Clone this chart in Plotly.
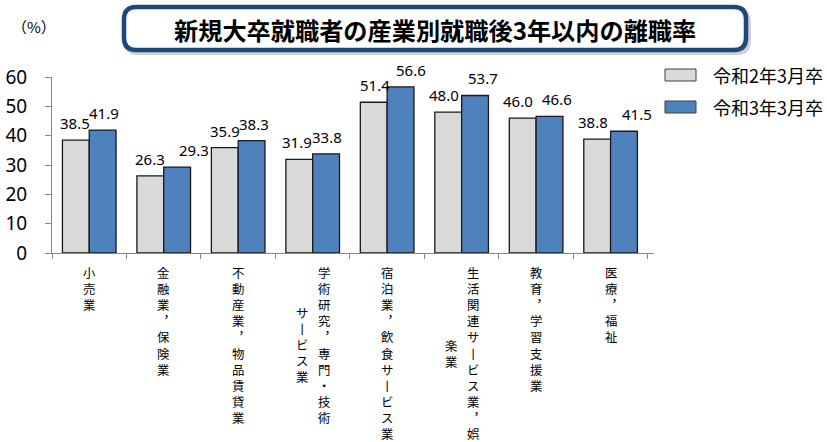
import plotly.graph_objects as go

# ---------------- data ----------------
title_text = "新規大卒就職者の産業別就職後3年以内の離職率"
unit_label = "（%）"
series_names = ["令和2年3月卒", "令和3年3月卒"]
categories = [
    "小売業",
    "金融業，保険業",
    "不動産業，物品賃貸業",
    "学術研究，専門・技術サービス業",
    "宿泊業，飲食サービス業",
    "生活関連サービス業，娯楽業",
    "教育，学習支援業",
    "医療，福祉",
]
# how each category label is split into vertical columns (right column first)
label_columns = [
    ["小売業"],
    ["金融業，保険業"],
    ["不動産業，物品賃貸業"],
    ["学術研究，専門・技術", "サービス業"],
    ["宿泊業，飲食サービス業"],
    ["生活関連サービス業，娯", "楽業"],
    ["教育，学習支援業"],
    ["医療，福祉"],
]
r2_values = [38.5, 26.3, 35.9, 31.9, 51.4, 48.0, 46.0, 38.8]
r3_values = [41.9, 29.3, 38.3, 33.8, 56.6, 53.7, 46.6, 41.5]
y_tick_values = [0, 10, 20, 30, 40, 50, 60]

# ---------------- style ----------------
W, H = 827, 442
L, R, T, B = 52, 173, 77, 189
PW, PH = W - L - R, H - T - B
BARGAP = 0.28
colors = ["#D9D9D9", "#4F81BD"]
edge = "#1A1A1A"
axis_gray = "#868686"
jp = "Noto Sans CJK JP"
num_font = "Noto Sans"
label_dx = [[-1, 0, 0, -2, 1, -4, -5, -4], [1, 17, 2, 1, 10, 8, 7, 13]]
VCHAR = {"ー": "丨", "，": "︐"}
V_FONT = 12.4
V_LH = 1.3 * V_FONT


def pxx(p):
    return (p - L) / PW


def pxy(p):
    return (H - B - p) / PH


fig = go.Figure()
for k, (name, vals) in enumerate(zip(series_names, [r2_values, r3_values])):
    fig.add_trace(go.Bar(
        x=categories, y=vals, name=name,
        marker=dict(color=colors[k], line=dict(color=edge, width=1.3)),
        showlegend=False, hoverinfo="skip",
    ))

annotations = []
half = (1 - BARGAP) / 4
for k, vals in enumerate([r2_values, r3_values]):
    off = -half if k == 0 else half
    for i, v in enumerate(vals):
        annotations.append(dict(
            x=i + off, y=v, xref="x", yref="y", text=f"{v:.1f}",
            showarrow=False, yanchor="middle", xanchor="center",
            yshift=17, xshift=label_dx[k][i],
            font=dict(family=num_font, size=15, color="#000"),
        ))

# vertical category labels
top_y = pxy(262)
for i, cols in enumerate(label_columns):
    n1 = len(cols[0])
    ncol = len(cols)
    for c, col in enumerate(cols):
        xs = 0 if ncol == 1 else (11 if c == 0 else -11)
        ys = -(n1 - len(col)) * V_LH / 2
        txt = "<br>".join(VCHAR.get(ch, ch) for ch in col)
        annotations.append(dict(
            x=i, y=top_y, xref="x", yref="paper", text=txt,
            showarrow=False, xanchor="center", yanchor="top",
            xshift=xs, yshift=ys, align="center",
            font=dict(family=jp, size=V_FONT, color="#000"),
        ))

# unit label
annotations.append(dict(
    x=pxx(34), y=pxy(27), xref="paper", yref="paper", text=unit_label,
    showarrow=False, xanchor="center", yanchor="middle",
    font=dict(family=jp, size=15, color="#000"),
))

# title
annotations.append(dict(
    x=pxx(435), y=pxy(29), xref="paper", yref="paper", text=f"<b>{title_text}</b>",
    showarrow=False, xanchor="center", yanchor="middle",
    font=dict(family=jp, size=24.2, color="#000"),
))


def rounded_path(x0, y0, x1, y1, r):
    # pixel coords -> paper path with quadratic corners
    P = lambda x, y: f"{pxx(x):.5f},{pxy(y):.5f}"
    return (f"M {P(x0 + r, y0)} L {P(x1 - r, y0)} Q {P(x1, y0)} {P(x1, y0 + r)} "
            f"L {P(x1, y1 - r)} Q {P(x1, y1)} {P(x1 - r, y1)} "
            f"L {P(x0 + r, y1)} Q {P(x0, y1)} {P(x0, y1 - r)} "
            f"L {P(x0, y0 + r)} Q {P(x0, y0)} {P(x0 + r, y0)} Z")


shapes = [
    dict(type="path", xref="paper", yref="paper",
         path=rounded_path(126, 10, 749, 53, 12),
         line=dict(color="rgba(120,120,120,0.35)", width=4), fillcolor="rgba(0,0,0,0)"),
    dict(type="path", xref="paper", yref="paper",
         path=rounded_path(124, 7, 746, 50, 12),
         line=dict(color="#1F497D", width=4.5), fillcolor="white"),
]

# custom legend
for k, name in enumerate(series_names):
    yc = 75 + k * 32
    shapes.append(dict(type="rect", xref="paper", yref="paper",
                       x0=pxx(665), x1=pxx(696), y0=pxy(yc - 6), y1=pxy(yc + 6),
                       fillcolor=colors[k], line=dict(color="#404040", width=1)))
    annotations.append(dict(
        x=pxx(711), y=pxy(yc), xref="paper", yref="paper", text=name,
        showarrow=False, xanchor="left", yanchor="middle",
        font=dict(family=jp, size=18, color="#000"),
    ))

fig.update_layout(
    width=W, height=H,
    margin=dict(l=L, r=R, t=T, b=B, autoexpand=False),
    paper_bgcolor="white", plot_bgcolor="white",
    barmode="group", bargap=BARGAP, bargroupgap=0,
    annotations=annotations, shapes=shapes,
    showlegend=False, hovermode=False,
)
fig.update_xaxes(
    type="category", showticklabels=False, tickson="boundaries",
    ticks="outside", ticklen=5, tickcolor=axis_gray, tickwidth=1,
    showline=True, linecolor=axis_gray, linewidth=1, showgrid=False,
    automargin=False,
)
fig.update_yaxes(
    range=[0, 60], tickvals=y_tick_values, ticks="outside", ticklen=6,
    tickcolor=axis_gray, showline=True, linecolor=axis_gray, linewidth=1,
    showgrid=False, zeroline=False, ticklabelstandoff=14, automargin=False,
    tickfont=dict(family=num_font, size=19, color="#000"),
)

fig.write_html(
    "out.html",
    config={"displayModeBar": False},
    post_script="document.body.style.margin='0';document.body.style.overflow='hidden';",
)
